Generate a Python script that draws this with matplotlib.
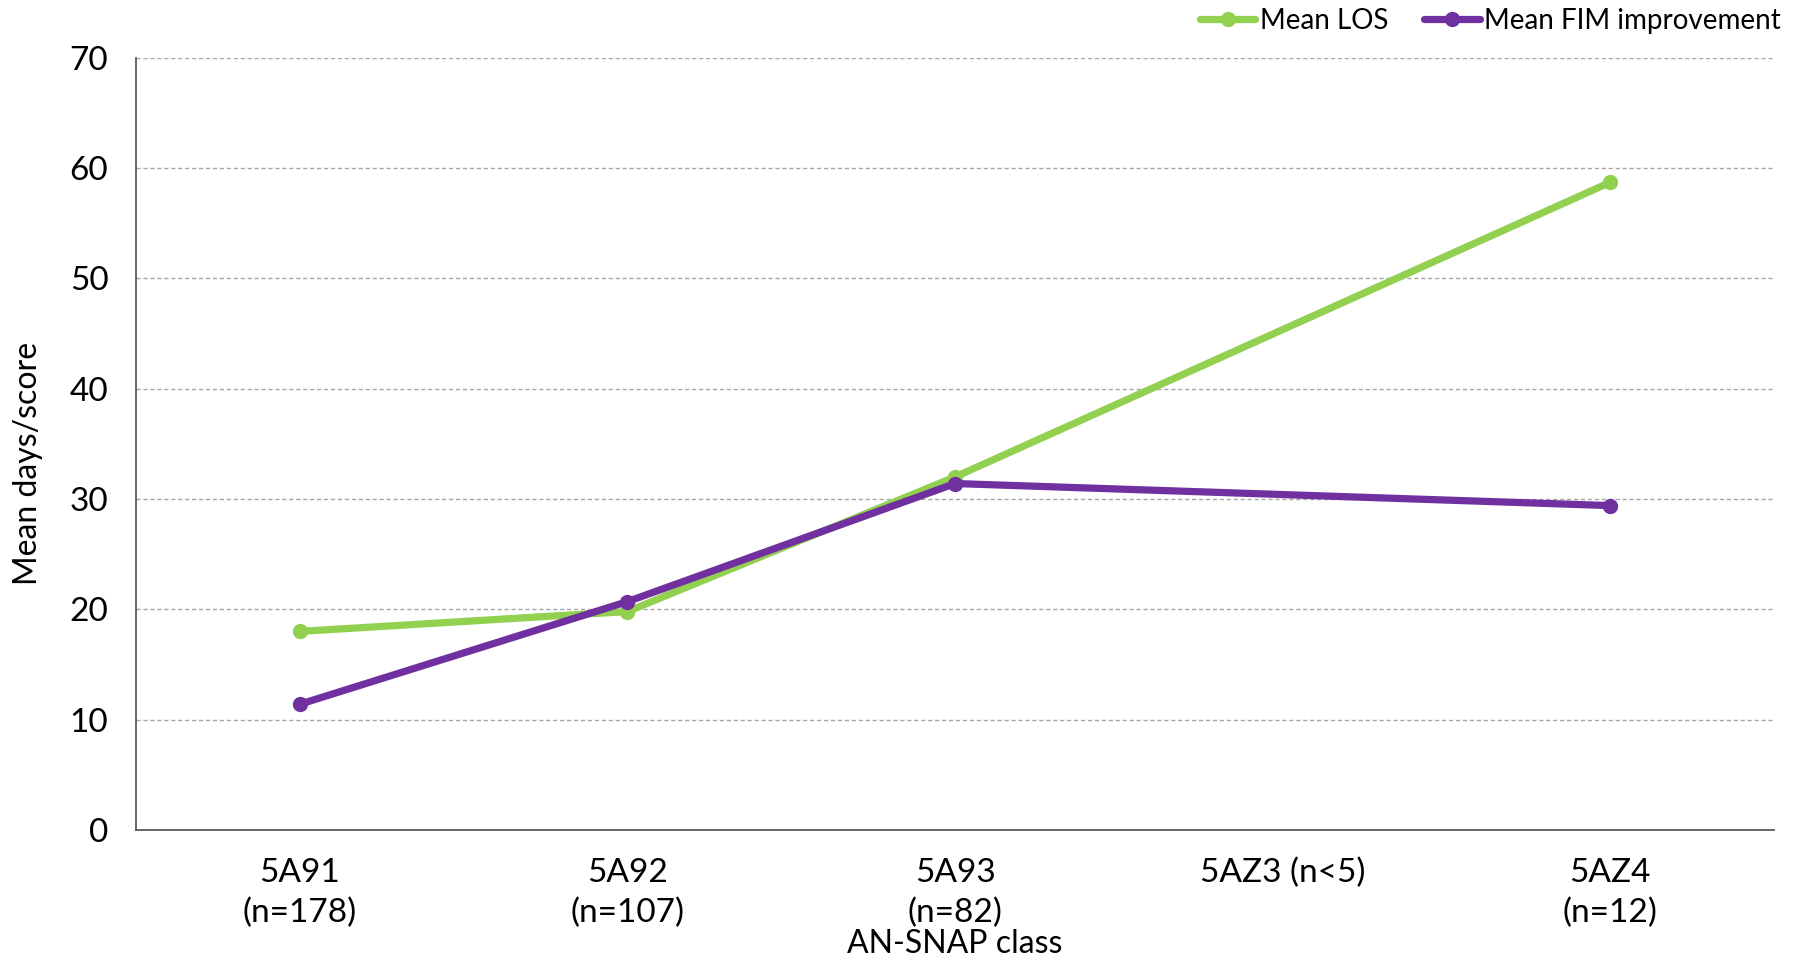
import numpy as np
import matplotlib
matplotlib.use('Agg')
import matplotlib.pyplot as plt

plt.rcParams['font.family'] = ['Lato', 'DejaVu Sans']

classes = ['5A91\n(n=178)', '5A92\n(n=107)', '5A93\n(n=82)', '5AZ3 (n<5)', '5AZ4\n(n=12)']
mean_los = [18.0, 19.8, 32.0, np.nan, 58.7]
mean_fim = [11.4, 20.7, 31.4, np.nan, 29.4]

GREEN = '#92D050'
PURPLE = '#7030A0'


def main():
    fig = plt.figure(figsize=(18.02, 9.6), dpi=100)
    ax = fig.add_axes([0.0755, 0.1354, 0.909, 0.8046])

    x = np.arange(len(classes))
    for vals, col, lab in [(mean_los, GREEN, 'Mean LOS'), (mean_fim, PURPLE, 'Mean FIM improvement')]:
        v = np.array(vals, dtype=float)
        ok = ~np.isnan(v)
        ax.plot(x[ok], v[ok], color=col, lw=5.2, marker='o', ms=10,
                solid_capstyle='round', label=lab, zorder=3)

    ax.set_xlim(-0.5, len(classes) - 0.5)
    ax.set_ylim(0, 70)
    ax.set_yticks(np.arange(0, 71, 10))
    ax.set_xticks(x, classes)
    ax.grid(axis='y', color='#A6A6A6', lw=1, linestyle=(0, (3, 2)), zorder=0)
    ax.set_axisbelow(True)

    for s in ['top', 'right']:
        ax.spines[s].set_visible(False)
    for s in ['left', 'bottom']:
        ax.spines[s].set_color('#595959')
        ax.spines[s].set_linewidth(1.3)

    ax.tick_params(axis='y', length=0, pad=20, labelsize=24)
    ax.tick_params(axis='x', length=0, pad=20, labelsize=24)
    for t in ax.get_xticklabels():
        t.set_linespacing(1.4)

    ax.set_xlabel('AN-SNAP class', fontsize=23, labelpad=1)
    ax.set_ylabel('Mean days/score', fontsize=23)
    ax.yaxis.set_label_coords(-0.057, 0.475)

    fig.legend(loc='upper right', bbox_to_anchor=(1.002, 1.018), ncol=2, frameon=False,
               fontsize=20, handlelength=2.0, handletextpad=0.15, columnspacing=1.3)

    plt.savefig('out.png', dpi=100)


if __name__ == '__main__':
    main()
